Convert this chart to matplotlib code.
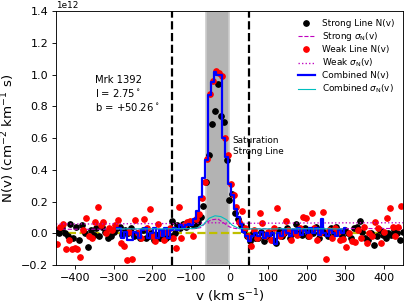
import numpy as np
import matplotlib
matplotlib.use("Agg")
import matplotlib.pyplot as plt

scale = 1e12

# strong line N(v), grid -450..450 step 7.5 (units of 1e12)
strong_v = np.arange(-450, 450.1, 7.5)
strong_n = [0.02, 0.0, 0.03, 0.0, -0.02, 0.06, -0.03, 0.04, -0.04, 0.05,
            0.0, -0.085, 0.02, -0.01, 0.03, -0.02, 0.04, 0.01, -0.03, -0.02,
            0.01, 0.03, 0.04, -0.01, 0.02, 0.0, 0.03, -0.02, 0.0, -0.03,
            0.02, -0.03, -0.02, 0.0, -0.04, -0.01, -0.03, 0.01, -0.03, -0.02,
            0.08, 0.0, 0.05, 0.03, 0.06, 0.04, 0.07, 0.06, 0.05, 0.07,
            0.10, 0.17, 0.32, 0.49, 0.69, 0.77, 0.94, 0.74, 0.70, 0.46,
            0.21, 0.245, 0.13, 0.09, 0.05, 0.02, -0.02, -0.05, 0.0, -0.03,
            -0.03, 0.01, -0.05, -0.02, 0.0, -0.04, -0.06, 0.02, -0.02, 0.0,
            0.03, -0.03, 0.0, 0.06, 0.02, -0.01, 0.03, -0.02, 0.02, 0.0,
            0.04, -0.03, 0.02, 0.0, -0.02, 0.03, 0.0, 0.04, 0.01, -0.02,
            0.02, 0.0, -0.03, 0.03, 0.04, 0.08, 0.01, -0.03, -0.04, 0.0,
            -0.075, -0.02, 0.02, -0.01, -0.03, 0.0, -0.01, 0.02, 0.0, -0.04,
            0.01]

# weak line N(v), grid -447..445.5 step 7.5
weak_v = np.arange(-447, 446, 7.5)
weak_n = [-0.07, 0.04, 0.06, -0.10, -0.04, -0.10, -0.09, -0.10, -0.148, 0.02,
          0.094, -0.02, -0.03, 0.07, 0.167, 0.05, 0.073, 0.0, 0.03, 0.02,
          0.05, 0.083, -0.06, -0.08, -0.17, 0.01, -0.16, 0.085, 0.0, -0.03,
          0.088, 0.03, 0.15, -0.02, -0.05, 0.06, 0.0, -0.04, 0.01, 0.03,
          -0.03, -0.09, 0.167, -0.03, 0.05, 0.07, 0.075, -0.02, 0.09, 0.12,
          0.225, 0.32, 0.47, 0.88, 0.96, 1.02, 1.01, 0.99, 0.60, 0.49,
          0.31, 0.24, 0.167, 0.07, 0.14, 0.03, -0.02, -0.08, 0.02, -0.03,
          0.13, 0.062, -0.02, 0.01, -0.04, 0.03, 0.16, -0.02, 0.0, 0.077,
          0.02, -0.04, 0.01, -0.01, 0.03, 0.105, 0.095, -0.02, 0.13, 0.03,
          -0.04, 0.0, 0.136, -0.164, 0.02, -0.03, 0.03, 0.01, -0.04, -0.038,
          -0.088, 0.0, -0.05, -0.053, 0.02, -0.03, 0.04, -0.06, 0.0, -0.02,
          0.073, 0.03, -0.063, 0.01, 0.094, 0.161, 0.04, -0.02, 0.037, 0.17]

# combined N(v), grid -292.5..300 step 7.5
comb_v = np.arange(-292.5, 300.1, 7.5)
comb_n = [0.03, 0.03, -0.03, 0.01, -0.04, -0.04, 0.01, 0.0, -0.03, 0.02,
          0.03, -0.03, 0.0, 0.03, -0.03, 0.02, -0.02, 0.03, -0.03, 0.02,
          0.03, 0.02, 0.05, 0.04, 0.05, 0.06, 0.05, 0.09, 0.14, 0.23,
          0.35, 0.46, 0.87, 0.955, 1.018, 1.00, 0.997, 0.60, 0.48, 0.31,
          0.24, 0.15, 0.10, 0.06, 0.01, -0.02, -0.05, -0.02, 0.0, -0.02,
          0.01, -0.03, 0.0, -0.02, 0.0, -0.07, 0.0, -0.02, 0.02, 0.0,
          -0.02, 0.02, 0.0, 0.03, -0.01, 0.02, 0.0, 0.03, 0.0, 0.03,
          -0.01, 0.09, 0.0, -0.02, 0.02, 0.0, -0.02, 0.02, 0.0, 0.03]

# errors, grid -450..450 step 15
sig_v = np.arange(-450, 450.1, 15)
strong_sig = [0.025, 0.026, 0.025, 0.025, 0.026, 0.025, 0.025, 0.026, 0.025, 0.026,
              0.026, 0.025, 0.026, 0.026, 0.025, 0.026, 0.026, 0.027, 0.026, 0.026,
              0.027, 0.027, 0.028, 0.028, 0.029, 0.035, 0.07, 0.085, 0.09, 0.065,
              0.04, 0.03, 0.028, 0.028, 0.027, 0.028, 0.028, 0.027, 0.028, 0.028,
              0.028, 0.029, 0.028, 0.029, 0.029, 0.028, 0.029, 0.029, 0.029, 0.03,
              0.029, 0.03, 0.029, 0.03, 0.03, 0.029, 0.03, 0.03, 0.03, 0.03,
              0.03]
weak_sig = [0.058, 0.058, 0.059, 0.058, 0.059, 0.059, 0.058, 0.059, 0.059, 0.059,
            0.06, 0.059, 0.06, 0.06, 0.06, 0.06, 0.061, 0.06, 0.061, 0.061,
            0.061, 0.061, 0.062, 0.062, 0.062, 0.063, 0.065, 0.066, 0.066, 0.065,
            0.063, 0.062, 0.062, 0.063, 0.063, 0.063, 0.063, 0.064, 0.063, 0.064,
            0.064, 0.064, 0.064, 0.065, 0.064, 0.065, 0.065, 0.065, 0.065, 0.065,
            0.066, 0.065, 0.066, 0.066, 0.066, 0.066, 0.066, 0.066, 0.066, 0.066,
            0.066]

# combined error, grid -292.5..292.5 step 15
comb_sig_v = np.arange(-292.5, 292.6, 15)
comb_sig = [0.028, 0.027, 0.028, 0.027, 0.028, 0.027, 0.028, 0.028, 0.027, 0.028,
            0.028, 0.028, 0.029, 0.029, 0.035, 0.055, 0.095, 0.11, 0.105, 0.085,
            0.05, 0.032, 0.028, 0.027, 0.028, 0.027, 0.028, 0.027, 0.028, 0.028,
            0.028, 0.027, 0.028, 0.028, 0.027, 0.028, 0.028, 0.028, 0.027, 0.028]

sat_lo, sat_hi = -60, 0
int_lo, int_hi = -150, 50

fig = plt.figure(figsize=(407 / 80, 306 / 80), dpi=80)
ax = fig.add_axes([0.1376, 0.134, 0.8524, 0.830])

ax.axvspan(sat_lo, sat_hi, facecolor='0.7', edgecolor='0.8', lw=1.5, zorder=0)
ax.axvline(int_lo, color='k', ls='--', lw=2)
ax.axvline(int_hi, color='k', ls='--', lw=2)
ax.axhline(0, color='y', ls='--', lw=2)

ax.plot(strong_v, np.array(strong_n) * scale, 'ko', ms=5, label='Strong Line N(v)')
ax.plot(sig_v, np.array(strong_sig) * scale, 'm--', lw=1, label=r'Strong $\sigma_{\rm N}$(v)')
ax.plot(weak_v, np.array(weak_n) * scale, 'ro', ms=5, label='Weak Line N(v)')
ax.plot(sig_v, np.array(weak_sig) * scale, 'm:', lw=1.2, label=r'Weak $\sigma_{\rm N}$(v)')
ax.plot(comb_v, np.array(comb_n) * scale, 'b-', lw=2, drawstyle='steps-mid', label='Combined N(v)')
ax.plot(comb_sig_v, np.array(comb_sig) * scale, 'c-', lw=1, label=r'Combined $\sigma_{\rm N}$(v)')

ax.text(-350, 1.0e12, 'Mrk 1392\nl = 2.75$^\\circ$\nb = +50.26$^\\circ$', fontsize=9, va='top')
ax.text(8, 0.61e12, 'Saturation\nStrong Line', fontsize=8, va='top')

ax.set_xlim(-450, 450)
ax.set_ylim(-0.2e12, 1.4e12)
ax.set_xticks([-400, -300, -200, -100, 0, 100, 200, 300, 400])
ax.set_xlabel(r'v (km s$^{-1}$)', fontsize=12)
ax.set_ylabel(r'N(v) (cm$^{-2}$ km$^{-1}$ s)', fontsize=12)
ax.tick_params(labelsize=10)
ax.yaxis.get_offset_text().set_fontsize(8)
ax.legend(loc='upper right', fontsize=8, frameon=False, numpoints=1, labelspacing=0.25)

fig.savefig('out.png', dpi=80)
